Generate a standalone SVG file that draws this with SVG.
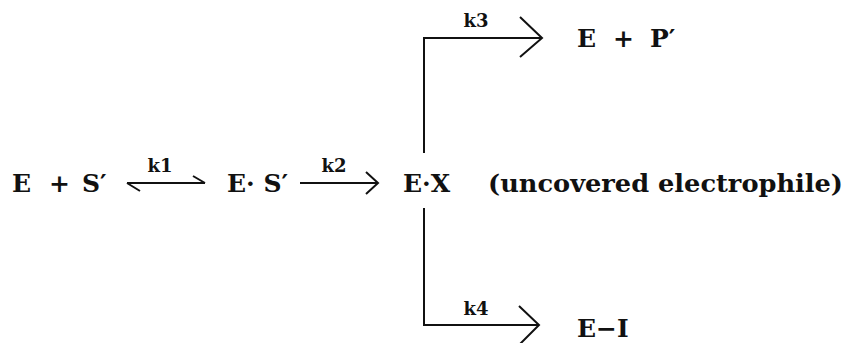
<svg xmlns="http://www.w3.org/2000/svg" width="853" height="343" viewBox="0 0 853 343">
<style>
.t{font-family:"DejaVu Serif","Liberation Serif",serif;font-weight:bold;font-size:25px;fill:#111}
.k{font-family:"DejaVu Serif","Liberation Serif",serif;font-weight:bold;font-size:18px;fill:#111}
.ln{stroke:#111;stroke-width:2;fill:none;stroke-linejoin:miter;stroke-linecap:butt}
</style>
<rect width="853" height="343" fill="#fff"/>
<g id="connectors">
<g id="eq-k1">
<path class="ln" d="M127,183 H205 M193,176 L205,183 M127,183 L140,191"/>
<text class="k" x="160" y="172" text-anchor="middle">k1</text>
</g>
<g id="arrow-k2">
<path class="ln" d="M300,183 H377 M366,172 L378,183 L366,194"/>
<text class="k" x="334" y="172" text-anchor="middle">k2</text>
</g>
<g id="branch">
<path class="ln" d="M424,153 V38 H541 M520,17 L542,38 L520,57"/>
<path class="ln" d="M424,208 V325 H538 M519,306 L539,325 L519,345"/>
<text class="k" x="476" y="27" text-anchor="middle">k3</text>
<text class="k" x="476" y="315" text-anchor="middle">k4</text>
</g>
</g>
<g id="node-ES"><text class="t" x="12" y="192">E</text><text class="t" x="49" y="192">+</text><text class="t" x="82" y="192">S′</text></g>
<g id="node-ES-complex"><text class="t" x="227" y="192">E· S′</text></g>
<g id="node-EX"><text class="t" x="403" y="192">E·X</text><text class="t" x="488" y="192" textLength="355" lengthAdjust="spacingAndGlyphs">(uncovered electrophile)</text></g>
<g id="node-EP"><text class="t" x="577" y="47">E</text><text class="t" x="613" y="47">+</text><text class="t" x="650" y="47">P′</text></g>
<g id="node-EI"><text class="t" x="577" y="337">E−I</text></g>
</svg>
